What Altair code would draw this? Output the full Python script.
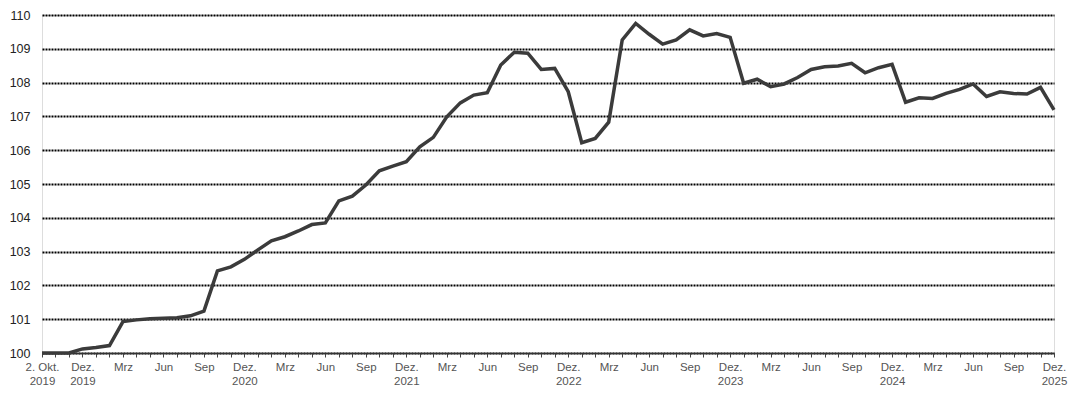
import altair as alt
import pandas as pd

# Index values (2. Okt. 2019 = 100), one point at start, then monthly
values = [
    100.0, 100.0, 100.0, 100.12, 100.16, 100.22, 100.93, 100.98, 101.01, 101.03,
    101.04, 101.10, 101.24, 102.43, 102.55, 102.77, 103.05, 103.32, 103.44, 103.61,
    103.80, 103.85, 104.50, 104.64, 104.97, 105.39, 105.53, 105.66, 106.10, 106.38,
    106.99, 107.40, 107.63, 107.70, 108.52, 108.90, 108.87, 108.39, 108.42, 107.73,
    106.22, 106.35, 106.83, 109.26, 109.75, 109.43, 109.14, 109.26, 109.56, 109.38,
    109.45, 109.34, 107.98, 108.10, 107.88, 107.96, 108.15, 108.39, 108.47, 108.49,
    108.57, 108.29, 108.44, 108.54, 107.42, 107.55, 107.53, 107.68, 107.80, 107.96,
    107.59, 107.73, 107.68, 107.66, 107.86, 107.19,
]

# Tick label positions (point index) and their labels (line 1, line 2)
label_pos = [0, 3, 6, 9, 12, 15, 18, 21, 24, 27, 30, 33, 36, 39, 42, 45, 48, 51,
             54, 57, 60, 63, 66, 69, 72, 75]
label_line1 = ["2. Okt.", "Dez.", "Mrz", "Jun", "Sep", "Dez.", "Mrz", "Jun", "Sep",
               "Dez.", "Mrz", "Jun", "Sep", "Dez.", "Mrz", "Jun", "Sep", "Dez.",
               "Mrz", "Jun", "Sep", "Dez.", "Mrz", "Jun", "Sep", "Dez."]
label_line2 = ["2019", "2019", "", "", "", "2020", "", "", "", "2021", "", "", "",
               "2022", "", "", "", "2023", "", "", "", "2024", "", "", "", "2025"]

y_ticks = [100, 101, 102, 103, 104, 105, 106, 107, 108, 109, 110]

df = pd.DataFrame({"i": list(range(len(values))), "v": values})

expr = "''"
for p, a, b in reversed(list(zip(label_pos, label_line1, label_line2))):
    lab = f"['{a}', '{b}']" if b else f"'{a}'"
    expr = f"datum.value == {p} ? {lab} : ({expr})"

chart = alt.Chart(df).mark_line(color="#3b3b3b", strokeWidth=3.5).encode(
    x=alt.X("i:Q",
            scale=alt.Scale(domain=[0, len(values) - 1], nice=False, zero=False),
            axis=alt.Axis(title=None, values=list(range(len(values))),
                          labelExpr=expr, labelOverlap=False, labelFlush=False,
                          grid=False, domainColor="#333333", domainWidth=1.5,
                          tickColor="#444444", tickSize=4, tickWidth=1,
                          labelPadding=4, labelFont="Liberation Sans",
                          labelFontSize=11.5, labelColor="#555555",
                          labelLineHeight=14, labelBaseline="top")),
    y=alt.Y("v:Q",
            scale=alt.Scale(domain=[100, 110], nice=False, zero=False),
            axis=alt.Axis(title=None, values=y_ticks, format="d",
                          domain=False, ticks=False, tickSize=0,
                          labelPadding=12, labelFont="Liberation Sans",
                          labelFontSize=12.5, labelColor="#222222",
                          gridColor="#000000", gridDash=[2, 1], gridWidth=2,
                          gridOpacity=1)),
).properties(
    width=1012, height=338,
    autosize=alt.AutoSizeParams(type="none"),
    padding={"left": 34, "top": 7, "right": 14, "bottom": 36},
).configure_view(stroke=None).configure(background="white")

chart.save("out.html", embed_options={"renderer": "svg", "actions": False})
